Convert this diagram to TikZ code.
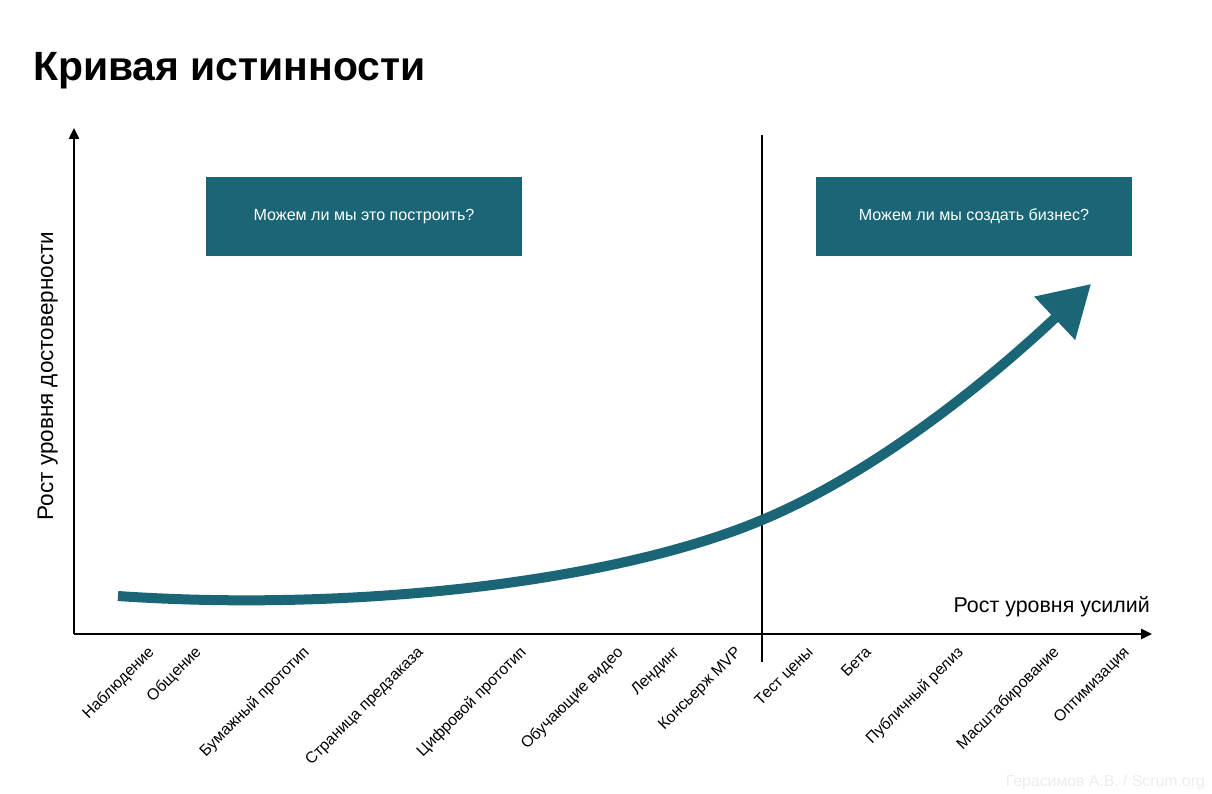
\documentclass[tikz,border=0pt]{standalone}
\usepackage{fontspec}
\setmainfont{Liberation Sans}
\usetikzlibrary{arrows.meta}
\definecolor{teal1}{HTML}{1A6676}
\definecolor{wmark}{HTML}{ECECEC}
\begin{document}
\begin{tikzpicture}[x=1pt,y=-1pt,
  axisline/.style={line width=2.4pt,-{Triangle[length=11pt,width=10pt]}},
  qbox/.style={fill=teal1,text=white,minimum width=316pt,minimum height=79pt,inner sep=0pt,
     font=\fontsize{16.1}{19}\selectfont},
  ticklabel/.style={rotate=45,anchor=base east,inner sep=0pt,font=\fontsize{15.8}{18}\selectfont},
  axislabel/.style={inner sep=0pt,font=\fontsize{21.4}{25}\selectfont}]
\useasboundingbox (0,0) rectangle (1212,794);
% title
\node[anchor=base west,inner sep=0pt,font=\fontsize{40.9}{48}\selectfont\bfseries] (title) at (33,81) {Кривая истинности};
% axes
\coordinate (o) at (74,634);
\coordinate (ytop) at (74,128);
\coordinate (xend) at (1152,634);
\draw[axisline] (o) -- (ytop);
\draw[axisline] (o) -- (xend);
% divider
\coordinate (dtop) at (762,135);
\coordinate (dbot) at (762,662);
\draw[line width=2.6pt] (dtop) -- (dbot);
% boxes
\node[qbox] (q1) at (364,216.5) {Можем ли мы это построить?};
\node[qbox] (q2) at (974,216.5) {Можем ли мы создать бизнес?};
% axis labels
\node[axislabel,anchor=base east] (xl) at (1150,612) {Рост уровня усилий};
\node[axislabel,rotate=90,anchor=base,font=\fontsize{22.5}{26}\selectfont] (yl) at (53,376) {Рост уровня достоверности};
% curve
\coordinate (cs) at (118,596);
\coordinate (cm) at (762,520);
\coordinate (ce) at (1091,284);
\draw[teal1,line width=10pt,-{Triangle[length=50pt,width=57pt]}]
  (cs) .. controls (350,612) and (612,583) .. (cm)
       .. controls (882,470) and (1000,370) .. (ce);
% tick labels
\foreach \x/\t [count=\i] in {155/Наблюдение,202/Общение,310/Бумажный прототип,424/Страница предзаказа,527/Цифровой прототип,624/Обучающие видео,680/Лендинг,742/Консьерж MVP,814/Тест цены,872/Бета,964/Публичный релиз,1060/Масштабирование,1130/Оптимизация}
  \node[ticklabel] (t\i) at (\x,653) {\t};
% watermark
\node[anchor=base east,inner sep=0pt,text=wmark,font=\fontsize{15.8}{19}\selectfont] (wm) at (1205,786) {Герасимов А.В. / Scrum.org};
\end{tikzpicture}
\end{document}
